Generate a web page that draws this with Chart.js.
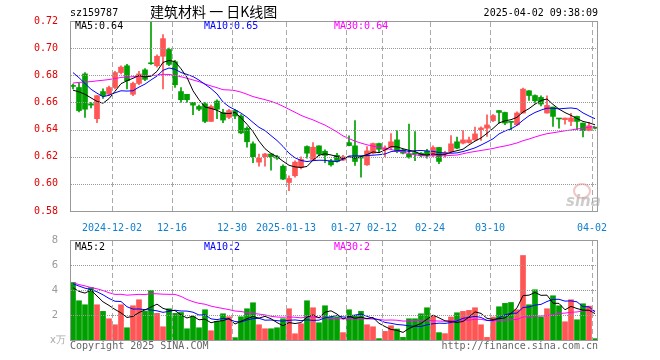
<!DOCTYPE html>
<html>
<head>
<meta charset="utf-8">
<script src="https://cdn.jsdelivr.net/npm/chart.js@4"></script>
<style>
body { margin: 0; background: #fff; width: 660px; height: 360px; position: relative; overflow: hidden; }
canvas { position: absolute; left: 0; }
.t { position: absolute; white-space: nowrap; font: 10px "DejaVu Sans Mono", monospace; line-height: 12px; }
</style>
</head>
<body>
<canvas id="kChart" width="660" height="232" style="top:0"></canvas>
<canvas id="volChart" width="660" height="130" style="top:230px"></canvas>

<div class="t" style="left:70px;top:7px">sz159787</div>
<div class="t" style="left:150px;top:2px;font:14px 'Noto Sans CJK SC';line-height:18px">建筑材料 一 日K线图</div>
<div class="t" style="right:62px;top:7px">2025-04-02 09:38:09</div>

<div class="t" style="left:75px;top:20px;color:#000">MA5:0.64</div>
<div class="t" style="left:204px;top:20px;color:#00f">MA10:0.65</div>
<div class="t" style="left:334px;top:20px;color:#f0f">MA30:0.64</div>

<div class="t" style="left:75px;top:241px;color:#000">MA5:2</div>
<div class="t" style="left:204px;top:241px;color:#00f">MA10:2</div>
<div class="t" style="left:334px;top:241px;color:#f0f">MA30:2</div>

<div class="t" style="left:50px;top:334px;color:#aaa;font-family:'DejaVu Sans'">x万</div>
<div class="t" style="left:70px;top:340px;color:#666">Copyright 2025 SINA.COM</div>
<div class="t" style="right:62px;top:340px;color:#666">http://finance.sina.com.cn</div>

<div style="position:absolute;left:573px;top:183px;width:14px;height:12px;border-radius:50%;border:2px solid rgba(230,150,150,0.55)"></div>
<div class="t" style="left:566px;top:192px;font:italic bold 15px 'DejaVu Sans';color:rgba(170,170,170,0.6)">sina</div>

<script>
var dates = [
  "2024-11-21","2024-11-22","2024-11-25","2024-11-26","2024-11-27","2024-11-28","2024-11-29",
  "2024-12-02","2024-12-03","2024-12-04","2024-12-05","2024-12-06","2024-12-09","2024-12-10","2024-12-11","2024-12-12","2024-12-13",
  "2024-12-16","2024-12-17","2024-12-18","2024-12-19","2024-12-20","2024-12-23","2024-12-24","2024-12-25","2024-12-26","2024-12-27",
  "2024-12-30","2024-12-31","2025-01-02","2025-01-03","2025-01-06","2025-01-07","2025-01-08","2025-01-09","2025-01-10",
  "2025-01-13","2025-01-14","2025-01-15","2025-01-16","2025-01-17","2025-01-20","2025-01-21","2025-01-22","2025-01-23","2025-01-24",
  "2025-01-27","2025-02-05","2025-02-06","2025-02-07","2025-02-10","2025-02-11",
  "2025-02-12","2025-02-13","2025-02-14","2025-02-17","2025-02-18","2025-02-19","2025-02-20","2025-02-21",
  "2025-02-24","2025-02-25","2025-02-26","2025-02-27","2025-02-28","2025-03-03","2025-03-04","2025-03-05","2025-03-06","2025-03-07",
  "2025-03-10","2025-03-11","2025-03-12","2025-03-13","2025-03-14","2025-03-17","2025-03-18","2025-03-19","2025-03-20","2025-03-21",
  "2025-03-24","2025-03-25","2025-03-26","2025-03-27","2025-03-28","2025-03-31","2025-04-01","2025-04-02"
];

var tickDates = ["2024-12-02","2024-12-16","2024-12-30","2025-01-13","2025-01-27","2025-02-12","2025-02-24","2025-03-10","2025-04-02"];
var tickLabels = ["2024-12-02","12-16","12-30","2025-01-13","01-27","02-12","02-24","03-10","04-02"];

var opens = [
  0.672,0.671,0.681,0.659,0.648,0.668,0.666,0.671,0.682,0.687,0.666,0.674,0.684,0.689,0.687,0.694,0.699,0.690,0.668,0.666,
  0.660,0.657,0.659,0.646,0.661,0.6525,0.649,0.654,0.650,0.641,0.6295,0.616,0.620,0.622,0.620,0.613,0.601,0.606,0.612,0.6275,
  0.618,0.628,0.624,0.617,0.621,0.6175,0.6304,0.628,0.620,0.614,0.6226,0.6297,0.625,0.627,0.6324,0.625,0.622,0.623,0.6226,0.624,
  0.6214,0.6268,0.622,0.6238,0.631,0.630,0.6304,0.6324,0.640,0.641,0.6466,0.654,0.6526,0.646,0.6436,0.6522,0.6686,0.6651,0.6637,0.6522,
  0.6566,0.648,0.6473,0.646,0.6497,0.6448,0.6394,0.6415
];
var highs = [
  0.6735,0.674,0.682,0.660,0.665,0.670,0.672,0.683,0.687,0.688,0.675,0.683,0.685,0.719,0.695,0.710,0.700,0.691,0.671,0.666,
  0.660,0.658,0.660,0.658,0.662,0.655,0.655,0.655,0.651,0.642,0.631,0.622,0.6225,0.622,0.621,0.614,0.606,0.617,0.620,0.628,
  0.6305,0.628,0.625,0.618,0.6225,0.621,0.6354,0.6466,0.620,0.6275,0.630,0.630,0.628,0.637,0.6393,0.6255,0.644,0.6385,0.623,0.6255,
  0.628,0.627,0.624,0.6356,0.6344,0.6393,0.6345,0.6418,0.642,0.6508,0.651,0.654,0.6528,0.646,0.653,0.6705,0.6688,0.6656,0.6649,0.6649,
  0.6566,0.648,0.6485,0.652,0.650,0.6448,0.6453,0.6418
];
var lows = [
  0.670,0.653,0.649,0.656,0.645,0.663,0.665,0.670,0.681,0.670,0.665,0.673,0.676,0.688,0.686,0.670,0.687,0.671,0.660,0.660,
  0.651,0.654,0.645,0.646,0.648,0.645,0.648,0.648,0.637,0.627,0.6157,0.613,0.613,0.610,0.618,0.603,0.595,0.605,0.611,0.619,
  0.618,0.6205,0.6157,0.613,0.616,0.617,0.628,0.6135,0.605,0.6135,0.622,0.623,0.620,0.626,0.623,0.622,0.619,0.617,0.620,0.619,
  0.620,0.6148,0.6197,0.623,0.626,0.6295,0.630,0.632,0.632,0.6349,0.6459,0.6448,0.6436,0.640,0.643,0.652,0.6615,0.6595,0.6575,0.652,
  0.6424,0.6411,0.644,0.6428,0.640,0.6345,0.639,0.6405
];
var closes = [
  0.6718,0.654,0.655,0.658,0.665,0.665,0.671,0.682,0.686,0.676,0.674,0.681,0.677,0.6885,0.694,0.707,0.688,0.673,0.662,0.662,
  0.658,0.655,0.646,0.657,0.655,0.647,0.654,0.650,0.6375,0.631,0.620,0.619,0.622,0.620,0.619,0.6035,0.604,0.616,0.618,0.6226,
  0.627,0.622,0.621,0.614,0.6165,0.620,0.6282,0.6165,0.619,0.6243,0.6297,0.6255,0.6265,0.631,0.6238,0.6226,0.6197,0.622,0.6207,0.621,
  0.6268,0.6165,0.623,0.6295,0.6263,0.6324,0.6324,0.6368,0.6412,0.6434,0.6503,0.6526,0.6448,0.6453,0.6522,0.6698,0.6651,0.6612,0.6588,0.6578,
  0.6497,0.6478,0.6485,0.6485,0.646,0.6392,0.6428,0.641
];
// closes before the first visible day (only feed the moving averages)
var priorCloses = [
  0.640,0.645,0.650,0.648,0.652,0.655,0.660,0.662,0.665,0.668,0.670,0.674,0.680,0.684,0.688,0.690,0.692,0.694,0.696,0.695,
  0.692,0.698,0.700,0.694,0.691,0.660,0.664,0.6712,0.678
];

// volume, unit: 万
var volumes = [
  4.6,3.14,2.82,4.2,2.82,2.29,1.7,1.22,2.82,0.98,2.74,3.22,2.29,3.96,2.13,1.06,2.5,2.13,2.2,0.9,
  1.86,0.98,2.42,0.74,1.49,2.1,1.86,0.19,1.86,2.5,2.98,1.22,0.9,0.9,0.98,1.7,2.5,0.5,1.3,3.14,
  2.58,1.38,2.74,1.84,1.84,0.59,2.42,2.0,2.29,1.22,1.06,0.11,0.69,1.14,0.88,0.21,1.7,1.7,2.1,2.58,
  1.89,0.59,0.51,1.84,2.18,2.29,2.37,2.58,1.22,0.21,1.84,2.66,2.93,3.0,2.42,6.76,2.82,4.02,1.84,2.5,
  3.54,2.74,1.46,3.22,1.62,2.9,2.71,0.11
];
var priorVolumes = [
  7.5,6.0,8.2,5.8,6.5,7.0,5.2,2.5,3.1,1.8,2.2,2.9,1.6,2.6,2.0,2.8,2.3,7.0,8.2,7.2,
  5.0,4.5,5.3,4.6,4.7,4.6,3.5,3.0,5.2
];

var UP = "#ff5555", DOWN = "#00a000";

function movingAverage(prior, values, n) {
  var all = prior.concat(values), out = [];
  for (var i = prior.length; i < all.length; i++) {
    var s = 0;
    for (var j = i - n + 1; j <= i; j++) s += all[j];
    out.push(s / n);
  }
  return out;
}

var keyIdx = tickDates.map(function(d) { return dates.indexOf(d); });
var colors = closes.map(function(c, i) { return c >= opens[i] ? UP : DOWN; });
var wicks = lows.map(function(l, i) { return [l, highs[i]]; });
var bodies = opens.map(function(o, i) { return [o, closes[i]]; });

// dashed date lines, dotted value lines and the grey frame, painted after everything
var gridPlugin = {
  id: "sinaGrid",
  afterDraw: function(chart) {
    var a = chart.chartArea, c = chart.ctx, xs = chart.scales.x, ys = chart.scales.y;
    var half = (xs.getPixelForValue(1) - xs.getPixelForValue(0)) / 2;
    var top = Math.round(a.top), bottom = Math.round(a.bottom);
    var left = Math.round(a.left), right = Math.round(a.right);
    c.save();
    c.globalCompositeOperation = "source-over";
    c.globalAlpha = 1;
    c.fillStyle = "#aaa";
    keyIdx.forEach(function(i) {
      var x = Math.round(xs.getPixelForValue(i) - half);
      for (var y = top + 1; y < bottom; y += 8) c.fillRect(x, y, 1, Math.min(5, bottom - y));
    });
    c.fillStyle = "#999";
    ys.ticks.forEach(function(t) {
      var y = Math.round(ys.getPixelForValue(t.value));
      if (y <= top + 2 || y >= bottom - 2) return;
      for (var x = left + 1; x < right; x += 2) c.fillRect(x, y, 1, 1);
    });
    c.fillRect(left, top, right - left, 1);
    c.fillRect(left, bottom, right - left, 1);
    c.fillRect(left, top, 1, bottom - top + 1);
    c.fillRect(right - 1, top, 1, bottom - top + 1);
    c.restore();
  }
};

function xScale(showLabels) {
  return {
    type: "category",
    offset: true,
    afterFit: function(s) { s.height = showLabels ? 21 : 20; },
    grid: { display: false, offset: true },
    border: { display: false },
    ticks: {
      display: showLabels,
      autoSkip: false,
      maxRotation: 0,
      minRotation: 0,
      padding: 3,
      labelOffset: -3,
      color: "#1080d0",
      font: { family: "DejaVu Sans Mono", size: 10 },
      callback: function(v, i) {
        var k = keyIdx.indexOf(i);
        return k >= 0 ? tickLabels[k] : "";
      }
    }
  };
}

function yScale(min, max, step, color, family, fmt) {
  return {
    min: min,
    max: max,
    afterFit: function(s) { s.width = 70; },
    grid: { display: false },
    border: { display: false },
    ticks: { stepSize: step, padding: 4, color: color, font: { family: family, size: 10 }, callback: fmt }
  };
}

function lineSet(data, color) {
  return { type: "line", data: data, borderColor: color, borderWidth: 1, pointRadius: 0, tension: 0, fill: false, order: 0 };
}

var common = {
  responsive: false,
  animation: false,
  events: [],
  plugins: { legend: { display: false }, tooltip: { enabled: false } }
};

new Chart(document.getElementById("kChart").getContext("2d"), {
  type: "bar",
  data: {
    labels: dates,
    datasets: [
      lineSet(movingAverage(priorCloses, closes, 5), "#000"),
      lineSet(movingAverage(priorCloses, closes, 10), "#00f"),
      lineSet(movingAverage(priorCloses, closes, 30), "#f0f"),
      { data: wicks, backgroundColor: colors, barThickness: 1, grouped: false, order: 2 },
      { data: bodies, backgroundColor: colors, barThickness: 5, minBarLength: 1, grouped: false, order: 1 }
    ]
  },
  options: Object.assign({}, common, {
    layout: { padding: { top: 21, right: 62, left: 0, bottom: 0 } },
    scales: {
      x: xScale(true),
      y: yScale(0.58, 0.72, 0.02, "#e00000", "DejaVu Sans Mono", function(v) { return Number(v).toFixed(2); })
    }
  }),
  plugins: [gridPlugin]
});

new Chart(document.getElementById("volChart").getContext("2d"), {
  type: "bar",
  data: {
    labels: dates,
    datasets: [
      lineSet(movingAverage(priorVolumes, volumes, 5), "#000"),
      lineSet(movingAverage(priorVolumes, volumes, 10), "#00f"),
      lineSet(movingAverage(priorVolumes, volumes, 30), "#f0f"),
      { data: volumes, backgroundColor: colors, barThickness: 5, grouped: false, order: 1 }
    ]
  },
  options: Object.assign({}, common, {
    layout: { padding: { top: 10, right: 62, left: 0, bottom: 0 } },
    scales: {
      x: xScale(false),
      y: yScale(0, 8, 2, "#999", "DejaVu Sans", function(v) { return v === 0 ? "" : v; })
    }
  }),
  plugins: [gridPlugin]
});
</script>
</body>
</html>
